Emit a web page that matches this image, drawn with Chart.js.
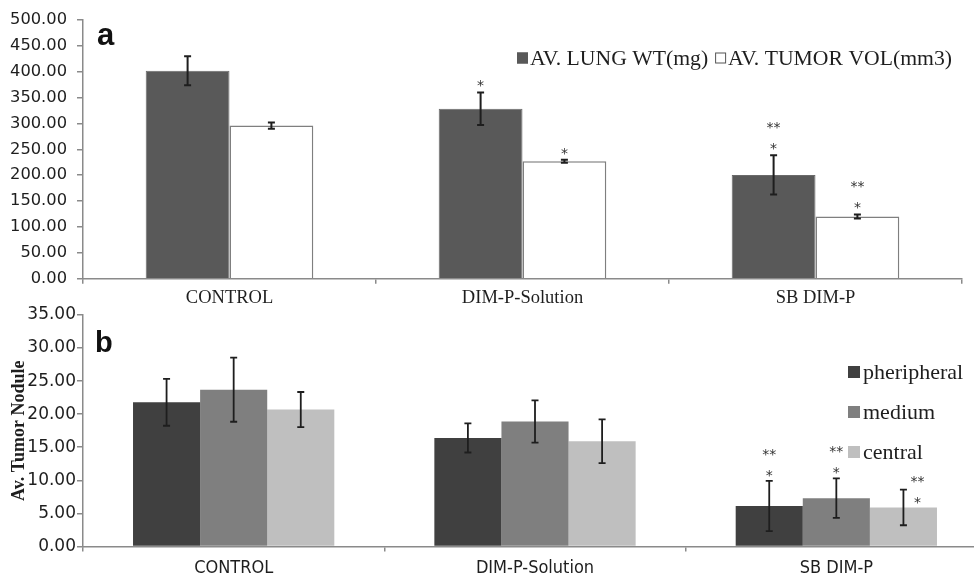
<!DOCTYPE html>
<html>
<head>
<meta charset="utf-8">
<script src="https://cdn.jsdelivr.net/npm/chart.js"></script>
<style>
  html, body { margin: 0; padding: 0; background: #fff; overflow: hidden; }
  #wrap { position: relative; width: 974px; height: 579px; overflow: hidden; }
  #chart_a { position: absolute; left: 0; top: 0; }
  #chart_b { position: absolute; left: 0; top: 293px; }
</style>
</head>
<body>
<div id="wrap">
  <canvas id="chart_a" width="974" height="312"></canvas>
  <canvas id="chart_b" width="1000" height="294"></canvas>
</div>
<script>
const categories = ['CONTROL', 'DIM-P-Solution', 'SB DIM-P']

// panel a
const lungWt = [401.7, 328.4, 200.5]
const lungWtErr = [28.0, 31.4, 38.0]
const tumorVol = [295.7, 226.9, 120.3]
const tumorVolErr = [6.0, 3.0, 4.0]
const lungWtMarks = [[], ['*'], ['**', '*']]
const tumorVolMarks = [[], ['*'], ['**', '*']]
const axisA = { max: 500, step: 50 }

// panel b
const pheripheral = [21.8, 16.4, 6.1]
const pheripheralErr = [3.55, 2.2, 3.8]
const medium = [23.7, 18.9, 7.3]
const mediumErr = [4.85, 3.2, 3.0]
const central = [20.7, 15.9, 5.9]
const centralErr = [2.65, 3.3, 2.7]
const pheripheralMarks = [[], [], ['**', '*']]
const mediumMarks = [[], [], ['**', '*']]
const centralMarks = [[], [], ['**', '*']]
const axisB = { max: 35, step: 5 }

const AXIS = '#8a8a8a'
const INK = '#1e1e1e'
const SANS = 'DejaVu Sans'
const SANS_C = 'DejaVu Sans Condensed'
const SERIF = 'Liberation Serif'

// error bars, asterisks, legend and panel letter
const extras = {
  id: 'extras',
  afterDatasetsDraw(chart, args, opts){
    const ctx = chart.ctx
    const ys = chart.scales.y
    ctx.save()
    chart.data.datasets.forEach((ds, i) => {
      const meta = chart.getDatasetMeta(i)
      meta.data.forEach((bar, j) => {
        const v = ds.data[j], e = ds.errors[j]
        const yt = ys.getPixelForValue(v + e)
        const yb = ys.getPixelForValue(v - e)
        ctx.strokeStyle = INK
        ctx.lineWidth = opts.errWidth
        ctx.beginPath()
        ctx.moveTo(bar.x, yt); ctx.lineTo(bar.x, yb)
        ctx.moveTo(bar.x - opts.cap, yt); ctx.lineTo(bar.x + opts.cap, yt)
        ctx.moveTo(bar.x - opts.cap, yb); ctx.lineTo(bar.x + opts.cap, yb)
        ctx.stroke()

        const marks = ds.marks[j]
        ctx.fillStyle = '#333'
        ctx.font = '14px "DejaVu Sans"'
        ctx.textAlign = 'center'
        ctx.textBaseline = 'alphabetic'
        const n = marks.length
        marks.forEach((m, k) => {
          const cy = yt + (ds.markDy || opts.markDy) - (n - 1 - k) * 21
          ctx.fillText(m, bar.x + (ds.markDx || 0), cy + 8)
        })
      })
    })

    // legend
    const lg = opts.legend
    ctx.font = lg.size + 'px "' + SERIF + '"'
    ctx.textAlign = 'left'
    ctx.textBaseline = 'middle'
    let x = lg.x, y = lg.y
    chart.data.datasets.forEach(ds => {
      ctx.fillStyle = ds.backgroundColor
      ctx.fillRect(x, y - lg.box / 2, lg.box, lg.box)
      ctx.strokeStyle = ds.legendBorder || ds.backgroundColor
      ctx.lineWidth = 1
      ctx.strokeRect(x + 0.5, y - lg.box / 2 + 0.5, lg.box - 1, lg.box - 1)
      ctx.fillStyle = INK
      ctx.fillText(ds.label, x + lg.box + lg.textGap, y + 1)
      if(lg.dir === 'row'){
        x += lg.box + lg.textGap + ctx.measureText(ds.label).width + lg.itemGap
      } else {
        y += lg.itemGap
      }
    })

    // panel letter
    ctx.fillStyle = '#111'
    ctx.font = 'bold ' + opts.letter.size + 'px "Liberation Sans"'
    ctx.textBaseline = 'alphabetic'
    ctx.fillText(opts.letter.text, opts.letter.x, opts.letter.y)
    ctx.restore()
  }
}

function yAxis(ax, size, pad, extra){
  return Object.assign({
    min: 0,
    max: ax.max,
    afterFit(scale){ scale.width = 83 },
    border: { color: AXIS, width: 1.5 },
    grid: { drawOnChartArea: false, tickLength: 6, color: AXIS, lineWidth: 1.5 },
    ticks: {
      stepSize: ax.step,
      padding: pad,
      color: INK,
      font: { family: SANS, size: size },
      callback: v => v.toFixed(2)
    }
  }, extra)
}

function xAxis(font, pad){
  return {
    border: { color: AXIS, width: 1.5 },
    grid: { drawOnChartArea: false, tickLength: 5, color: AXIS, lineWidth: 1.5 },
    ticks: { padding: pad, color: INK, font: font, maxRotation: 0, autoSkip: false }
  }
}

// chart a
new Chart(document.getElementById('chart_a'), {
  type: 'bar',
  data: {
    labels: categories,
    datasets: [{
      label: 'AV. LUNG WT(mg)',
      data: lungWt,
      errors: lungWtErr,
      marks: lungWtMarks,
      backgroundColor: '#595959',
      borderColor: '#6a6a6a',
      borderWidth: 1
    }, {
      label: 'AV. TUMOR VOL(mm3)',
      data: tumorVol,
      errors: tumorVolErr,
      marks: tumorVolMarks,
      backgroundColor: '#ffffff',
      borderColor: '#7f7f7f',
      legendBorder: '#555',
      borderWidth: 1.5
    }]
  },
  options: {
    responsive: false,
    animation: false,
    events: [],
    barPercentage: 1,
    categoryPercentage: 0.572,
    layout: { padding: { top: 7, right: 12, left: 0, bottom: 0 } },
    scales: {
      x: xAxis({ family: SERIF, size: 18.5 }, 3),
      y: yAxis(axisA, 16.3, 10)
    },
    plugins: {
      legend: { display: false },
      tooltip: { enabled: false },
      extras: {
        errWidth: 2, cap: 3.5, markDy: -10,
        legend: { x: 517, y: 58, dir: 'row', box: 11, textGap: 2, itemGap: 7, size: 21.7 },
        letter: { text: 'a', x: 97, y: 45, size: 31 }
      }
    }
  },
  plugins: [extras]
})

// chart b
new Chart(document.getElementById('chart_b'), {
  type: 'bar',
  data: {
    labels: categories,
    datasets: [{
      label: 'pheripheral',
      data: pheripheral,
      errors: pheripheralErr,
      marks: pheripheralMarks,
      backgroundColor: '#404040',
      borderWidth: 0
    }, {
      label: 'medium',
      data: medium,
      errors: mediumErr,
      marks: mediumMarks,
      backgroundColor: '#7f7f7f',
      borderWidth: 0
    }, {
      label: 'central',
      data: central,
      errors: centralErr,
      marks: centralMarks,
      markDx: 14,
      markDy: 9,
      backgroundColor: '#bfbfbf',
      borderWidth: 0
    }]
  },
  options: {
    responsive: false,
    animation: false,
    events: [],
    barPercentage: 1,
    categoryPercentage: 0.668,
    layout: { padding: { top: 22, right: 13, left: 0, bottom: 2 } },
    scales: {
      x: xAxis({ family: SANS_C, size: 18 }, 6),
      y: yAxis(axisB, 17, 1, {
        title: {
          display: true,
          text: 'Av. Tumor Nodule',
          color: INK,
          font: { family: SERIF, size: 18, weight: 'bold' },
          padding: { top: 9, bottom: 0 }
        }
      })
    },
    plugins: {
      legend: { display: false },
      tooltip: { enabled: false },
      extras: {
        errWidth: 1.8, cap: 3.5, markDy: -9,
        legend: { x: 848, y: 79, dir: 'col', box: 12, textGap: 3, itemGap: 40, size: 22 },
        letter: { text: 'b', x: 95, y: 59, size: 29 }
      }
    }
  },
  plugins: [extras]
})
</script>
</body>
</html>
